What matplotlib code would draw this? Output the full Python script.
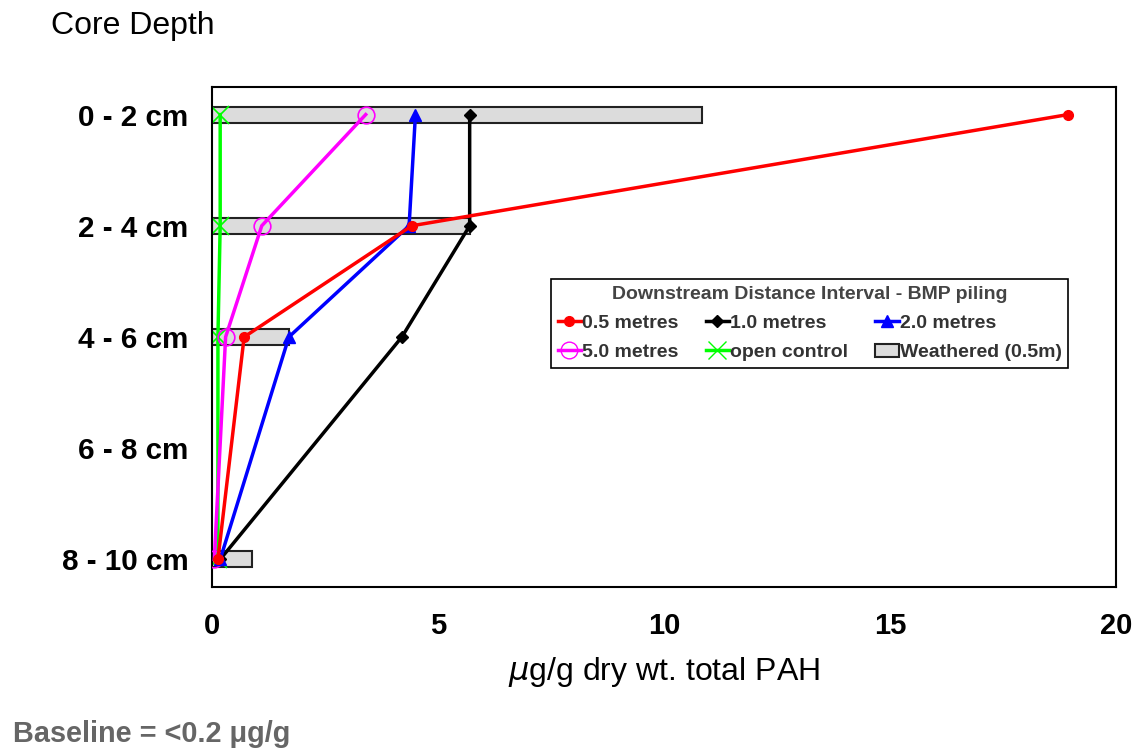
import matplotlib.pyplot as plt
from matplotlib.patches import Patch
from matplotlib.lines import Line2D

plt.rcParams['font.family'] = ['Liberation Sans', 'DejaVu Sans']

depths = ['0 - 2 cm', '2 - 4 cm', '4 - 6 cm', '6 - 8 cm', '8 - 10 cm']
depth_pos = [1, 3, 5, 7, 9]

# measured depths (6 - 8 cm not sampled)
sample_pos = [1, 3, 5, 9]
m05 = [18.94, 4.42, 0.71, 0.13]
m10 = [5.7, 5.7, 4.2, 0.18]
m20 = [4.5, 4.36, 1.7, 0.18]
m50 = [3.4, 1.1, 0.3, 0.05]
control = [0.18, 0.18, 0.13, 0.13]
weathered = [10.84, 5.7, 1.7, 0.88]

fig = plt.figure(figsize=(11.37, 7.48), dpi=100)
ax = fig.add_axes([0.1865, 0.215, 0.795, 0.669])

ax.barh(sample_pos, weathered, height=0.29, color='#dcdcdc', edgecolor='#222222',
        linewidth=1.5, zorder=1)

lw = 2.5
ax.plot(m05, sample_pos, color='red', lw=lw, marker='o', ms=7, zorder=5)
ax.plot(m10, sample_pos, color='black', lw=lw, marker='D', ms=6, zorder=3)
ax.plot(m20, sample_pos, color='blue', lw=lw, marker='^', ms=9, zorder=4)
ax.plot(m50, sample_pos, color='magenta', lw=lw, marker='o', ms=12, mfc='none',
        mew=1.2, zorder=3)
ax.plot(control, sample_pos, color='#00ff00', lw=lw, marker='x', ms=13, mew=1.2, zorder=2)

ax.set_xlim(0, 20)
ax.set_ylim(9.5, 0.5)
ax.set_xticks([0, 5, 10, 15, 20])
ax.set_yticks(depth_pos)
ax.set_yticklabels(depths)
ax.tick_params(axis='y', length=0, labelsize=21.3, pad=17)
ax.tick_params(axis='x', length=0, labelsize=21, pad=18)
for lab in ax.get_xticklabels() + ax.get_yticklabels():
    lab.set_fontweight('bold')
for s in ax.spines.values():
    s.set_linewidth(1.5)

ax.set_xlabel('$\\mu$g/g dry wt. total PAH', fontsize=23, labelpad=11)
fig.text(0.045, 0.955, 'Core Depth', fontsize=23)
fig.text(0.0115, 0.008, 'Baseline = <0.2 \u03bcg/g', fontsize=20.8, fontweight='bold',
         color='#666666')

def h(c, m, ms, mfc=None):
    return Line2D([], [], color=c, lw=lw, marker=m, ms=ms,
                  mfc=c if mfc is None else mfc)

handles = [h('red', 'o', 7), h('magenta', 'o', 12, 'none'),
           h('black', 'D', 6), h('#00ff00', 'x', 13),
           h('blue', '^', 9),
           Patch(facecolor='#dcdcdc', edgecolor='#222222', lw=1.5)]
labels = ['0.5 metres', '5.0 metres', '1.0 metres', 'open control',
          '2.0 metres', 'Weathered (0.5m)']
leg = ax.legend(handles, labels, ncol=3, loc='upper left', borderaxespad=0,
                bbox_to_anchor=(0.375, 0.616), title='Downstream Distance Interval - BMP piling',
                prop={'size': 14, 'weight': 'bold'}, fancybox=False, edgecolor='black',
                handlelength=1.2, handletextpad=0.05, columnspacing=1.4,
                labelspacing=0.6, borderpad=0.35, framealpha=1)
leg.get_title().set_fontweight('bold')
leg.get_title().set_fontsize(14)
leg.get_title().set_color('#444444')
for t in leg.get_texts():
    t.set_color('#333333')
leg.get_frame().set_linewidth(1.2)

fig.savefig('out.png', dpi=100)
